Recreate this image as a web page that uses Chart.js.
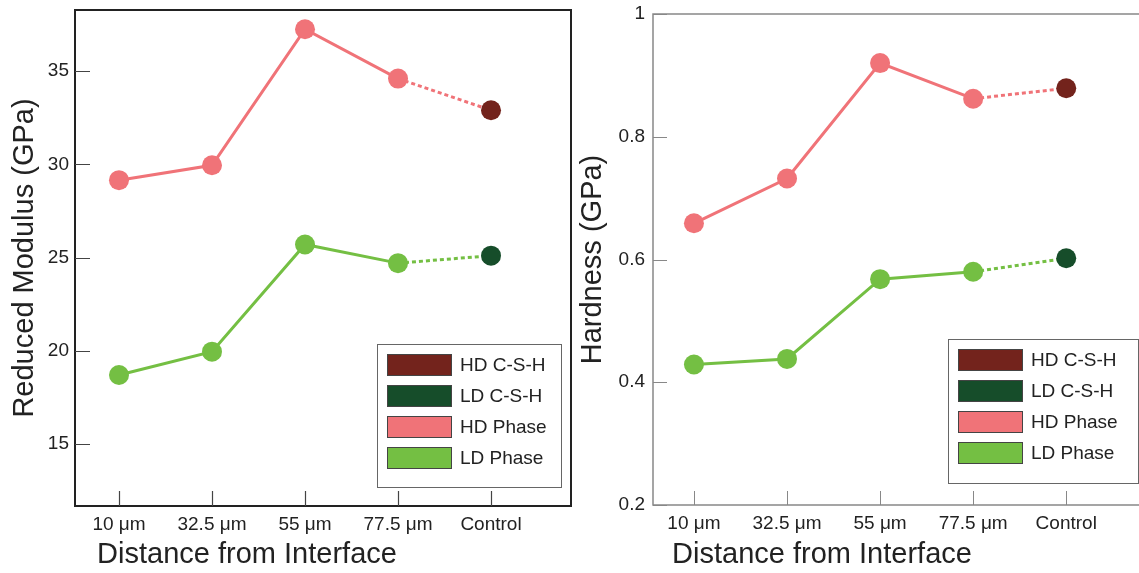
<!DOCTYPE html>
<html>
<head>
<meta charset="utf-8">
<script src="https://cdn.jsdelivr.net/npm/chart.js@4"></script>
<style>
  html, body { margin: 0; padding: 0; background: #fff; overflow: hidden; width: 1139px; height: 573px; }
  #modChart { position: absolute; left: 0; top: 0; }
  #hardChart { position: absolute; left: 575px; top: 0; }
</style>
</head>
<body>
<canvas id="modChart" width="590" height="573"></canvas>
<canvas id="hardChart" width="590" height="573"></canvas>
<script>
// ------- Data -------
const distLabels = ["10 \u03bcm", "32.5 \u03bcm", "55 \u03bcm", "77.5 \u03bcm", "Control"];
const modulusHD = [29.15, 29.95, 37.25, 34.6, 32.9];
const modulusLD = [18.7, 19.95, 25.7, 24.7, 25.1];
const hardnessHD = [0.659, 0.732, 0.92, 0.862, 0.879];
const hardnessLD = [0.429, 0.438, 0.568, 0.58, 0.602];
const modulusTicks = [15, 20, 25, 30, 35];
const hardnessTicks = [0.2, 0.4, 0.6, 0.8, 1];
const legendLabels = ["HD C-S-H", "LD C-S-H", "HD Phase", "LD Phase"];

// ------- Colours -------
const HD_PHASE = "#f07378";
const LD_PHASE = "#74bf43";
const HD_CSH = "#73231c";
const LD_CSH = "#164d2a";
const legendColors = [HD_CSH, LD_CSH, HD_PHASE, LD_PHASE];

const FONT = '"Liberation Sans", Arial, sans-serif';
Chart.defaults.font.family = FONT;
Chart.defaults.color = "#222";

// ------- Helpers -------
function series(values, phaseColor, controlColor) {
  return {
    data: values.map((v, i) => ({ x: i, y: v })),
    borderColor: phaseColor,
    borderWidth: 3,
    pointRadius: 10,
    pointHoverRadius: 10,
    pointBorderWidth: 0,
    pointBackgroundColor: values.map((_, i) => (i === values.length - 1 ? controlColor : phaseColor)),
    segment: {
      // last leg (to the control sample) is dotted
      borderDash: (c) => (c.p1DataIndex === values.length - 1 ? [4, 3] : undefined),
    },
    tension: 0,
    clip: false,
  };
}

function drawLegend(ctx, L) {
  ctx.fillStyle = "#fff";
  ctx.fillRect(L.x, L.y, L.w, L.h);
  ctx.strokeStyle = "#666";
  ctx.lineWidth = 1;
  ctx.strokeRect(L.x + 0.5, L.y + 0.5, L.w, L.h);
  ctx.font = "19px " + FONT;
  ctx.textAlign = "left";
  ctx.textBaseline = "middle";
  legendLabels.forEach((lab, i) => {
    const sy = L.y + 10 + i * 31;
    ctx.fillStyle = legendColors[i];
    ctx.fillRect(L.x + 10, sy, 65, 22);
    ctx.strokeStyle = "#444";
    ctx.strokeRect(L.x + 10.5, sy + 0.5, 64, 21);
    ctx.fillStyle = "#222";
    ctx.fillText(lab, L.x + 83, sy + 12);
  });
}

// frame, inward ticks, x title and legend
const panelPlugin = {
  id: "panel",
  beforeDatasetsDraw(chart, args, o) {
    const { ctx, chartArea: a } = chart;
    const x = chart.scales.x, y = chart.scales.y;
    ctx.save();
    ctx.strokeStyle = o.frameColor;
    ctx.lineWidth = o.frameWidth;
    ctx.beginPath();
    if (o.closed) {
      ctx.rect(a.left, a.top, a.right - a.left, a.bottom - a.top);
    } else {
      ctx.moveTo(a.right, a.top);
      ctx.lineTo(a.left, a.top);
      ctx.lineTo(a.left, a.bottom);
      ctx.lineTo(a.right, a.bottom);
    }
    ctx.stroke();

    ctx.strokeStyle = o.tickColor;
    ctx.lineWidth = o.tickWidth;
    ctx.beginPath();
    y.ticks.forEach((t) => {
      const py = Math.round(y.getPixelForValue(t.value)) + 0.5;
      ctx.moveTo(a.left, py);
      ctx.lineTo(a.left + o.tickLen, py);
    });
    x.ticks.forEach((t) => {
      const px = Math.round(x.getPixelForValue(t.value)) + 0.5;
      ctx.moveTo(px, a.bottom);
      ctx.lineTo(px, a.bottom - o.tickLen);
    });
    ctx.stroke();

    ctx.fillStyle = "#222";
    ctx.font = "29px " + FONT;
    ctx.textAlign = "center";
    ctx.textBaseline = "middle";
    ctx.fillText(o.xTitle, o.xTitleX, o.xTitleY);
    ctx.restore();
  },
  afterDatasetsDraw(chart, args, o) {
    chart.ctx.save();
    drawLegend(chart.ctx, o.legend);
    chart.ctx.restore();
  },
};

function makePanel(id, p) {
  return new Chart(document.getElementById(id), {
    type: "line",
    data: {
      datasets: [
        series(p.hd, HD_PHASE, HD_CSH),
        series(p.ld, LD_PHASE, LD_CSH),
      ],
    },
    plugins: [panelPlugin],
    options: {
      responsive: false,
      animation: false,
      events: [],
      layout: { padding: { top: p.top, right: p.right, left: 0, bottom: 0 } },
      plugins: {
        legend: { display: false },
        tooltip: { enabled: false },
        panel: p.panel,
      },
      scales: {
        x: {
          type: "linear",
          min: p.xMin,
          max: p.xMax,
          grid: { display: false, drawTicks: false },
          border: { display: false },
          afterFit: (s) => { s.height = p.xHeight; s.paddingLeft = 0; s.paddingRight = 0; },
          afterBuildTicks: (s) => { s.ticks = distLabels.map((_, i) => ({ value: i })); },
          ticks: {
            padding: 7,
            maxRotation: 0,
            font: { size: 19 },
            callback: (v) => distLabels[v],
          },
        },
        y: {
          min: p.yMin,
          max: p.yMax,
          grid: { display: false, drawTicks: false },
          border: { display: false },
          afterFit: (s) => { s.width = p.yWidth; s.paddingTop = 0; s.paddingBottom = 0; },
          afterBuildTicks: (s) => { s.ticks = p.yTicks.map((v) => ({ value: v })); },
          ticks: { padding: p.yPad, font: { size: 19 }, callback: (v) => String(+v.toFixed(2)) },
          title: {
            display: true,
            text: p.yTitle,
            font: { size: 29 },
            padding: { top: p.yTitlePad, bottom: 0 },
          },
        },
      },
    },
  });
}

makePanel("modChart", {
  hd: modulusHD, ld: modulusLD,
  top: 10, right: 19, xHeight: 67, yWidth: 75, yPad: 6,
  xMin: -0.473, xMax: 4.86,
  yMin: 11.67, yMax: 38.28, yTicks: modulusTicks,
  yTitle: "Reduced Modulus (GPa)", yTitlePad: 8,
  panel: {
    closed: true, frameColor: "#222", frameWidth: 2,
    tickColor: "#444", tickWidth: 1.2, tickLen: 15,
    xTitle: "Distance from Interface", xTitleX: 247, xTitleY: 555,
    legend: { x: 377, y: 344, w: 184, h: 143 },
  },
});

makePanel("hardChart", {
  hd: hardnessHD, ld: hardnessLD,
  top: 14, right: 15, xHeight: 68, yWidth: 78, yPad: 8,
  xMin: -0.44, xMax: 4.9,
  yMin: 0.2, yMax: 1.0, yTicks: hardnessTicks,
  yTitle: "Hardness (GPa)", yTitlePad: 1,
  panel: {
    closed: false, frameColor: "#888", frameWidth: 1.5,
    tickColor: "#888", tickWidth: 1, tickLen: 14,
    xTitle: "Distance from Interface", xTitleX: 247, xTitleY: 555,
    legend: { x: 373, y: 339, w: 190, h: 144 },
  },
});
</script>
</body>
</html>
